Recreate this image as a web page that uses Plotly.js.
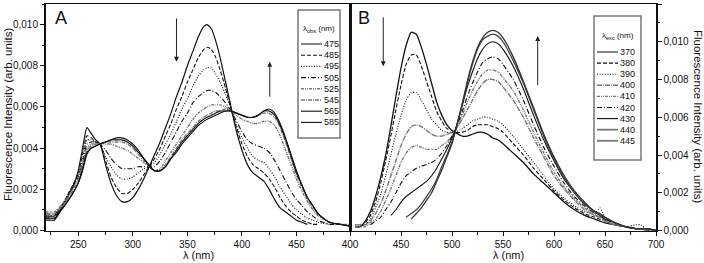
<!DOCTYPE html>
<html><head><meta charset="utf-8">
<script src="https://cdn.plot.ly/plotly-3.0.1.min.js"></script>
<style>html,body{margin:0;padding:0;background:#fff}#chart{width:704px;height:263px}</style>
</head><body><div id="chart"></div>
<script>
// ---------- Panel A data (excitation spectra, lambda_obs) ----------
const wlA = [220,225,228,232,236,240,245,250,254,258,262,266,270,275,280,285,290,295,300,305,310,315,320,325,330,335,340,345,350,355,360,365,368,372,376,380,385,390,395,400,405,410,415,420,425,430,435,440,445,450,455,460,465,470,480,490,500];
const obsLabels = ['475','485','495','505','525','545','565','585'];
const a475 = [.0005,.0005,.0005,.0008,.0012,.0016,.0021,.0029,.0040,.0050,.0047,.0044,.0042,.0032,.0023,.0017,.0014,.0014,.0016,.0020,.0025,.0031,.0037,.0043,.0050,.0057,.0065,.0072,.0080,.0087,.0094,.0099,.0100,.0098,.0092,.0084,.0072,.0060,.0048,.0039,.0032,.0028,.0026,.0024,.0020,.0015,.0011,.0009,.0007,.0005,.0004,.0003,null,null,null,null,null];
const a485 = [.0006,.0006,.0006,.0009,.0013,.0017,.0022,.0028,.0037,.0046,.0045,.0043,.0042,.0034,.0026,.0021,.0018,.0018,.0020,.0023,.0027,.0031,.0035,.0040,.0046,.0052,.0059,.0065,.0072,.0078,.0084,.0088,.0089,.0088,.0084,.0078,.0069,.0059,.0050,.0042,.0036,.0032,.0030,.0028,.0025,.0021,.0016,.0012,.0009,.0007,.0005,.0004,.0003,.0003,null,null,null];
const a495 = [.0007,.0007,.0007,.0010,.0013,.0017,.0022,.0027,.0035,.0044,.0044,.0043,.0042,.0036,.0031,.0027,.0025,.0025,.0026,.0028,.0030,.0031,.0033,.0037,.0042,.0047,.0053,.0059,.0064,.0070,.0075,.0078,.0079,.0079,.0076,.0072,.0066,.0059,.0051,.0045,.0040,.0036,.0034,.0033,.0030,.0026,.0021,.0017,.0013,.0010,.0008,.0006,.0005,.0004,.0003,null,null];
const a505 = [.0008,.0008,.0008,.0010,.0013,.0016,.0021,.0026,.0033,.0042,.0043,.0043,.0042,.0039,.0035,.0032,.0030,.0030,.0030,.0031,.0031,.0031,.0031,.0034,.0038,.0043,.0048,.0053,.0057,.0062,.0065,.0067,.0068,.0068,.0067,.0065,.0062,.0058,.0053,.0048,.0044,.0042,.0041,.0040,.0038,.0034,.0029,.0024,.0019,.0015,.0012,.0009,.0007,.0005,.0003,.0003,null];
const a525 = [.0009,.0009,.0009,.0011,.0013,.0016,.0020,.0025,.0032,.0040,.0042,.0042,.0042,.0042,.0042,.0041,.0040,.0039,.0037,.0035,.0033,.0031,.0029,.0030,.0034,.0038,.0042,.0046,.0050,.0054,.0057,.0059,.0060,.0061,.0061,.0061,.0060,.0058,.0056,.0054,.0053,.0052,.0052,.0053,.0053,.0051,.0046,.0039,.0032,.0025,.0019,.0014,.0010,.0007,.0004,.0003,.0003];
const a545 = [.0008,.0008,.0008,.0010,.0012,.0015,.0019,.0024,.0031,.0039,.0041,.0042,.0042,.0043,.0043,.0043,.0043,.0042,.0040,.0037,.0034,.0031,.0029,.0029,.0032,.0036,.0040,.0044,.0047,.0050,.0053,.0055,.0056,.0057,.0058,.0058,.0059,.0058,.0057,.0056,.0055,.0055,.0056,.0057,.0057,.0055,.0050,.0043,.0035,.0027,.0021,.0015,.0011,.0008,.0004,.0003,.0002];
const a565 = [.0007,.0007,.0007,.0009,.0011,.0014,.0018,.0023,.0030,.0038,.0040,.0041,.0042,.0043,.0044,.0044,.0044,.0043,.0041,.0038,.0035,.0031,.0029,.0029,.0031,.0035,.0039,.0043,.0046,.0049,.0052,.0054,.0055,.0056,.0057,.0058,.0058,.0058,.0057,.0056,.0055,.0055,.0056,.0058,.0058,.0056,.0051,.0044,.0036,.0028,.0022,.0016,.0012,.0008,.0004,.0003,.0002];
const a585 = [.0006,.0006,.0006,.0008,.0011,.0014,.0018,.0023,.0029,.0037,.0040,.0041,.0042,.0043,.0044,.0045,.0045,.0044,.0042,.0039,.0035,.0032,.0029,.0029,.0031,.0035,.0038,.0042,.0045,.0048,.0051,.0053,.0054,.0055,.0056,.0057,.0058,.0058,.0057,.0056,.0055,.0055,.0056,.0058,.0059,.0057,.0052,.0045,.0037,.0029,.0022,.0016,.0012,.0008,.0004,.0003,.0002];
const seriesA = [a475,a485,a495,a505,a525,a545,a565,a585];

// ---------- Panel B data (emission spectra, lambda_exc) ----------
const wlB = [405,410,415,420,425,430,435,440,445,450,455,460,465,470,475,480,485,490,495,500,503,510,515,520,525,530,535,540,545,550,560,570,580,590,600,610,620,630,640,645,650,660,670,680,685,690,700];
const excLabels = ['370','380','390','400','410','420','430','440','445'];
const b370 = [.0002,.0002,.0005,.0010,.0018,.0028,.0040,.0055,.0071,.0086,.0098,.0105,.0104,.0097,.0088,.0078,.0068,.0061,.0056,.0053,.0052,.0050,.0050,.0051,.0052,.0052,.0051,.0049,.0048,.0046,.0041,.0036,.0030,.0025,.0020,.0015,.0011,.0008,.0006,.0005,.0004,.0003,.0002,.0001,.0001,.0001,0];
const b380 = [.0002,.0002,.0004,.0008,.0015,.0025,.0037,.0050,.0064,.0077,.0088,.0093,.0093,.0087,.0079,.0071,.0063,.0058,.0054,.0053,.0052,.0052,.0053,.0055,.0056,.0056,.0056,.0055,.0054,.0052,.0046,.0040,.0033,.0027,.0021,.0016,.0012,.0009,.0007,.0006,.0005,.0003,.0002,.0001,.0001,.0001,0];
const b390 = [.0003,.0003,.0003,.0006,.0012,.0019,.0029,.0040,.0051,.0061,.0069,.0073,.0073,.0069,.0064,.0059,.0056,.0053,.0052,.0052,.0052,.0054,.0056,.0058,.0059,.0060,.0060,.0059,.0058,.0056,.0050,.0043,.0036,.0029,.0022,.0017,.0013,.0010,.0009,.0012,.0007,.0004,.0002,.0003,.0003,.0001,0];
const b400 = [.0003,.0003,.0003,.0005,.0009,.0014,.0021,.0029,.0037,.0045,.0051,.0055,.0056,.0055,.0053,.0051,.0050,.0050,.0051,.0052,.0053,.0059,.0064,.0069,.0074,.0078,.0080,.0080,.0079,.0076,.0069,.0060,.0049,.0039,.0029,.0022,.0016,.0011,.0008,.0007,.0005,.0003,.0002,.0001,.0001,0,0];
const b410 = [.0002,.0002,.0002,.0004,.0006,.0010,.0016,.0022,.0029,.0036,.0041,.0044,.0045,.0044,.0043,.0043,.0043,.0045,.0047,.0050,.0053,.0061,.0068,.0074,.0079,.0083,.0085,.0085,.0084,.0081,.0074,.0064,.0052,.0041,.0031,.0023,.0017,.0012,.0008,.0007,.0005,.0003,.0002,.0001,.0001,0,0];
const b420 = [null,null,null,.0003,.0005,.0007,.0011,.0015,.0020,.0025,.0029,.0031,.0033,.0034,.0035,.0036,.0038,.0041,.0045,.0050,.0053,.0063,.0071,.0078,.0084,.0089,.0091,.0092,.0091,.0088,.0080,.0069,.0056,.0044,.0034,.0025,.0018,.0013,.0009,.0008,.0006,.0004,.0002,.0001,.0001,0,0];
const b430 = [null,null,null,null,null,null,null,.0008,.0011,.0015,.0018,.0020,.0022,.0024,.0026,.0029,.0033,.0038,.0043,.0049,.0053,.0066,.0076,.0084,.0091,.0096,.0099,.0100,.0099,.0096,.0087,.0075,.0061,.0048,.0037,.0027,.0020,.0014,.0010,.0008,.0006,.0004,.0002,.0001,.0001,.0001,0];
const b440 = [null,null,null,null,null,null,null,null,null,null,.0007,.0009,.0011,.0014,.0018,.0022,.0027,.0034,.0040,.0047,.0052,.0067,.0078,.0088,.0096,.0101,.0103,.0104,.0103,.0100,.0090,.0078,.0064,.0050,.0038,.0028,.0020,.0014,.0010,.0008,.0007,.0004,.0002,.0001,.0001,.0001,0];
const b445 = [null,null,null,null,null,null,null,null,null,null,null,.0006,.0009,.0012,.0016,.0020,.0026,.0032,.0039,.0046,.0052,.0067,.0079,.0089,.0097,.0102,.0105,.0106,.0105,.0102,.0092,.0079,.0065,.0051,.0039,.0029,.0021,.0015,.0010,.0009,.0007,.0004,.0002,.0001,.0001,.0001,0];
const seriesB = [b370,b380,b390,b400,b410,b420,b430,b440,b445];

// ---------- styles ----------
const BLK = '#111', GRY = '#777';
const stylesA = [
  {color:BLK, dash:'solid', width:1.2},
  {color:BLK, dash:'4px,2px', width:1.1},
  {color:BLK, dash:'1px,1.6px', width:1.1},
  {color:BLK, dash:'5px,2px,1px,2px', width:1.1},
  {color:GRY, dash:'3px,1px,1px,1px,1px,1px', width:1.4},
  {color:GRY, dash:'4px,1px,1px,1px', width:1.4},
  {color:BLK, dash:'solid', width:1.1},
  {color:BLK, dash:'solid', width:1.1}
];
const stylesB = [
  {color:BLK, dash:'solid', width:1.3},
  {color:BLK, dash:'4px,2px', width:1.1},
  {color:BLK, dash:'1px,1.6px', width:1.1},
  {color:GRY, dash:'5px,1px,1px,1px', width:1.4},
  {color:GRY, dash:'3px,1px,1px,1px,1px,1px', width:1.4},
  {color:BLK, dash:'5px,2px,1px,2px', width:1.1},
  {color:BLK, dash:'solid', width:1.1},
  {color:'#444', dash:'solid', width:1.3},
  {color:'#333', dash:'solid', width:1.3}
];
const legStylesA = stylesA.map((s,i)=> i===0 ? Object.assign({}, s, {color:GRY, width:1.8}) : s);
const legStylesB = stylesB.map((s,i)=> (i===0 || i>=7) ? Object.assign({}, s, {color:GRY, width:1.8}) : s);

const FONT = 'Liberation Sans, Arial, Helvetica, sans-serif';
const W = 704, H = 263;
const px = x => x / W, py = y => 1 - y / H;

const traces = [];
seriesA.forEach((ys, i) => traces.push({
  x: wlA, y: ys, type: 'scatter', mode: 'lines', xaxis: 'x', yaxis: 'y',
  name: obsLabels[i], showlegend: false, hoverinfo: 'skip',
  line: {color: stylesA[i].color, dash: stylesA[i].dash, width: stylesA[i].width, shape: 'spline', smoothing: 0.6}
}));
seriesB.forEach((ys, i) => traces.push({
  x: wlB, y: ys, type: 'scatter', mode: 'lines', xaxis: 'x2', yaxis: 'y2',
  name: excLabels[i], showlegend: false, hoverinfo: 'skip',
  line: {color: stylesB[i].color, dash: stylesB[i].dash, width: stylesB[i].width, shape: 'spline', smoothing: 0.6}
}));

const shapes = [];
const annotations = [];
function label(x, y, text, size, extra) {
  annotations.push(Object.assign({xref:'paper', yref:'paper', x:px(x), y:py(y), text:text, showarrow:false,
    xanchor:'center', yanchor:'middle', font:{family:FONT, size:size, color:'#111'}}, extra || {}));
}

// compact legends
function legend(labels, styles, box, titleHtml, titleY, firstY, step) {
  shapes.push({type:'rect', xref:'paper', yref:'paper', x0:px(box.x0), x1:px(box.x1), y0:py(box.y1), y1:py(box.y0),
    line:{color:'#777', width:1.5}, fillcolor:'rgba(255,255,255,0)'});
  label((box.x0+box.x1)/2, titleY, titleHtml, 8);
  labels.forEach((lab, i) => {
    const yy = firstY + i*step;
    shapes.push({type:'line', xref:'paper', yref:'paper', x0:px(box.x0+3), x1:px(box.x0+24), y0:py(yy), y1:py(yy),
      line:{color:styles[i].color, dash:styles[i].dash, width:styles[i].width}});
    label(box.x0+24, yy, lab, 9, {xanchor:'left'});
  });
}
legend(obsLabels, legStylesA, {x0:298, x1:340, y0:10, y1:138}, 'λ<sub>obs</sub> (nm)', 29, 44, 11.2);
legend(excLabels, legStylesB, {x0:594, x1:641, y0:16, y1:160}, 'λ<sub>exc</sub> (nm)', 36, 52, 11.1);

// arrows
function arrow(xa, ya, x, ytail, ytip) {
  annotations.push({xref:xa, yref:ya, axref:xa, ayref:ya, x:x, y:ytip, ax:x, ay:ytail, text:' ', showarrow:true,
    arrowhead:2, arrowsize:1, arrowwidth:1, arrowcolor:'#222', font:{size:1}});
}
arrow('x','y', 340, 0.0104, 0.0082);
arrow('x','y', 425.5, 0.0064, 0.0082);
arrow('x2','y2', 432.6, 0.0114, 0.0087);
arrow('x2','y2', 584, 0.0076, 0.0103);

// panel letters and titles
label(61, 18.5, 'A', 18);
label(364, 18.5, 'B', 18);
label(8, 115, 'Fluorescence Intensity (arb. units)', 11.5, {textangle:-90});
label(698, 116, 'Fluorescence Intensity (arb. units)', 11.5, {textangle:90});
label(198, 255, 'λ (nm)', 11);
label(508, 255, 'λ (nm)', 11);

const yDom = [1 - 230.5/H, 1 - 4/H];
const axCommon = {showline:true, linecolor:'#111', linewidth:1.5, mirror:true, ticks:'outside', ticklen:4, tickwidth:1, tickcolor:'#111',
  showgrid:false, zeroline:false, tickfont:{family:FONT, size:10, color:'#111'}};

const layout = {
  width: W, height: H, margin: {l:0, r:0, t:0, b:0}, paper_bgcolor:'#fff', plot_bgcolor:'#fff',
  showlegend: false, separators: ',.',
  xaxis: Object.assign({}, axCommon, {domain:[45.5/W, 350/W], range:[220, 499], tickmode:'array', tickvals:[250,300,350,400,450],
    minor:{tickvals:[225,275,325,375,425,475], ticks:'outside', ticklen:2.5, tickcolor:'#111'}, anchor:'y'}),
  yaxis: Object.assign({}, axCommon, {domain:yDom, range:[0, 0.0110], tick0:0, dtick:0.002, tickformat:'.3f',
    minor:{dtick:0.001, ticks:'outside', ticklen:2.5, tickcolor:'#111'}, anchor:'x'}),
  xaxis2: Object.assign({}, axCommon, {domain:[350/W, 656/W], range:[400, 700], tick0:400, dtick:50,
    minor:{dtick:25, ticks:'outside', ticklen:2.5, tickcolor:'#111'}, anchor:'y2'}),
  yaxis2: Object.assign({}, axCommon, {domain:yDom, range:[0, 0.012], tick0:0, dtick:0.002, tickformat:'.3f', side:'right',
    minor:{dtick:0.001, ticks:'outside', ticklen:2.5, tickcolor:'#111'}, anchor:'x2'}),
  shapes: shapes, annotations: annotations
};

Plotly.newPlot('chart', traces, layout, {staticPlot:true, displayModeBar:false});
</script>
</body></html>
